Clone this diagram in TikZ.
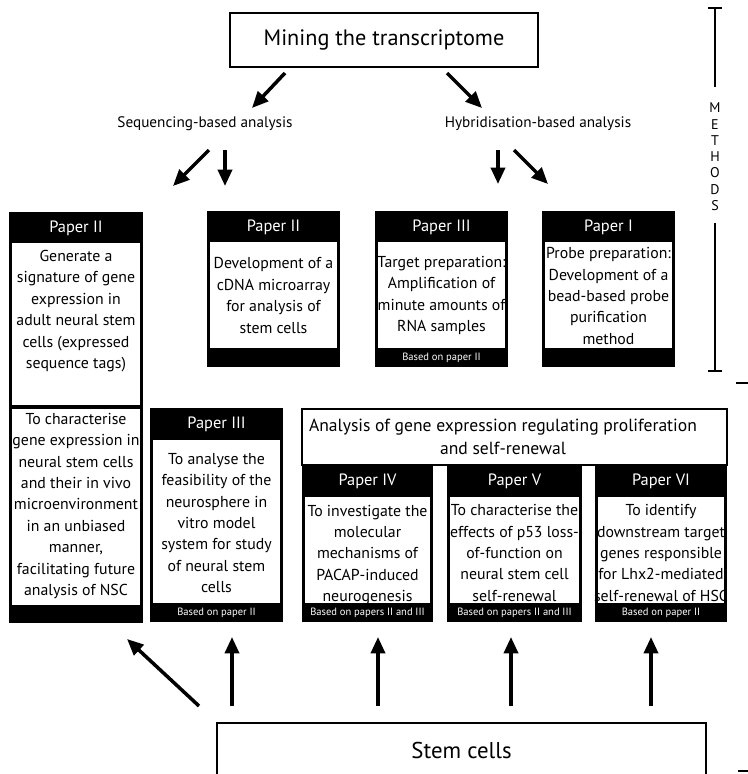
\documentclass[tikz,border=0pt]{standalone}
\usepackage{fontspec}
\setmainfont{PT Sans}
\usetikzlibrary{arrows.meta}

\tikzset{
	hdr/.style={text=white, inner sep=0pt, font=\fontsize{14}{16}\selectfont},
	txt/.style={align=center, inner sep=0pt, font=\fontsize{13.5}{18.3}\selectfont},
	ftr/.style={text=white, inner sep=0pt, font=\fontsize{9}{10}\selectfont},
	bigarrow/.style={line width=3pt, -{Triangle[length=14pt,width=12pt]}},
	frame/.style={draw, line width=1.7pt, fill=white},
}

\begin{document}
\begin{tikzpicture}[x=0.03cm,y=-0.03cm]
		\useasboundingbox (0,0) rectangle (748,774);
		
		%Top
		\node[frame, minimum width=9.24cm, minimum height=1.62cm, font=\fontsize{19}{21}\selectfont] (mine) at (384,40) {Mining the transcriptome};
		\node[font=\fontsize{13}{15}\selectfont] (seq) at (205,124) {Sequencing-based analysis};
		\node[font=\fontsize{13}{15}\selectfont] (hyb) at (538,124) {Hybridisation-based analysis};
		
		%Coordinates
		\coordinate (a1s) at (285,73);   \coordinate (a1e) at (252,108);
		\coordinate (a2s) at (447,73);   \coordinate (a2e) at (482,108);
		\coordinate (a3s) at (209,150);  \coordinate (a3e) at (173,186);
		\coordinate (a4s) at (225,150);  \coordinate (a4e) at (225,186);
		\coordinate (a5s) at (498,150);  \coordinate (a5e) at (498,184);
		\coordinate (a6s) at (514,150);  \coordinate (a6e) at (548,184);
		
		%Arrows
		\draw[bigarrow] (a1s) -- (a1e);
		\draw[bigarrow] (a2s) -- (a2e);
		\draw[bigarrow] (a3s) -- (a3e);
		\draw[bigarrow] (a4s) -- (a4e);
		\draw[bigarrow] (a5s) -- (a5e);
		\draw[bigarrow] (a6s) -- (a6e);
		
		%Methods bracket
		\draw[line width=1.7pt] (715,8) -- (715,87);
		\draw[line width=1.7pt] (715,223) -- (715,371);
		\draw[line width=2.5pt] (708,8) -- (722,8);
		\draw[line width=2.5pt] (708,371) -- (722,371);
		\foreach \l [count=\i] in {M,E,T,H,O,D,S}
		{
			\node[font=\fontsize{12}{13}\selectfont] (m\i) at (715,{91.5+16.3*\i}) {\l};
		}
		\draw[line width=1.5pt] (736,383) -- (748,383);
		\draw[line width=1.5pt] (738,771) -- (748,771);
		
		%Paper II (left)
		\fill (9,212) rectangle (143,623);
		\fill[white] (12,243) rectangle (140,405);
		\fill[white] (12,409) rectangle (140,605);
		\node[hdr] (p2a) at (76,228) {Paper II};
		\node[txt] (p2atxt) at (76,311) {Generate a\\signature of gene\\expression in\\adult neural stem\\cells (expressed\\sequence tags)};
		\node[txt] (p2aaim) at (76,506) {To characterise\\gene expression in\\neural stem cells\\and their in vivo\\microenvironment\\in an unbiased\\manner,\\facilitating future\\analysis of NSC};
		
		%Paper II (microarray)
		\fill (207,211) rectangle (340,367);
		\fill[white] (210,242) rectangle (337,348);
		\node[hdr] (p2b) at (273.5,227) {Paper II};
		\node[txt] (p2btxt) at (273.5,295.5) {Development of a\\cDNA microarray\\for analysis of\\stem cells};
		
		%Paper III (target)
		\fill (375,211) rectangle (508,367);
		\fill[white] (378,242) rectangle (505,348);
		\node[hdr] (p3a) at (441.5,227) {Paper III};
		\node[txt] (p3atxt) at (441.5,295.5) {Target preparation:\\Amplification of\\minute amounts of\\RNA samples};
		\node[ftr] (p3aftr) at (441.5,358) {Based on paper II};
		
		%Paper I
		\fill (542,211) rectangle (675,367);
		\fill[white] (545,242) rectangle (672,348);
		\node[hdr] (p1) at (608.5,227) {Paper I};
		\node[txt] (p1txt) at (608.5,296) {Probe preparation:\\Development of a\\bead-based probe\\purification\\method};
		
		%Paper III (neurosphere)
		\fill (150,408) rectangle (283,622);
		\fill[white] (153,440) rectangle (280,603);
		\node[hdr] (p3b) at (216.5,424) {Paper III};
		\node[txt] (p3btxt) at (216.5,523) {To analyse the\\feasibility of the\\neurosphere in\\vitro model\\system for study\\of neural stem\\cells};
		\node[ftr] (p3bftr) at (216.5,612.5) {Based on paper II};
		
		%Analysis
		\node[frame, minimum width=12.75cm, minimum height=1.68cm] (anl) at (514.5,437) {};
		\node[txt, font=\fontsize{15}{19.5}\selectfont] (anltxt) at (503,437) {Analysis of gene expression regulating proliferation\\and self-renewal};
		
		%Paper IV
		\fill (302,465) rectangle (433,622);
		\fill[white] (305,497) rectangle (430,603);
		\node[hdr] (p4) at (367.5,481) {Paper IV};
		\node[txt] (p4txt) at (367.5,555) {To investigate the\\molecular\\mechanisms of\\PACAP-induced\\neurogenesis};
		\node[ftr] (p4ftr) at (367.5,612.5) {Based on papers II and III};
		
		%Paper V
		\fill (447,465) rectangle (582,622);
		\fill[white] (450,497) rectangle (579,603);
		\node[hdr] (p5) at (514.5,481) {Paper V};
		\node[txt] (p5txt) at (514.5,553) {To characterise the\\effects of p53 loss-\\of-function on\\neural stem cell\\self-renewal};
		\node[ftr] (p5ftr) at (514.5,612.5) {Based on papers II and III};
		
		%Paper VI
		\fill (595,465) rectangle (727,622);
		\fill[white] (598,497) rectangle (724,603);
		\node[hdr] (p6) at (661,481) {Paper VI};
		\node[txt] (p6txt) at (661,553) {To identify\\downstream target\\genes responsible\\for Lhx2-mediated\\self-renewal of HSC};
		\node[ftr] (p6ftr) at (661,612.5) {Based on paper II};
		
		%Stem cells
		\draw[line width=1.7pt] (217,800) |- (706,723) -- (706,800);
		\node[font=\fontsize{19.5}{21}\selectfont] (stem) at (461.5,750) {Stem cells};
		
		%Bottom arrows
		\coordinate (b1s) at (199,706);  \coordinate (b1e) at (127,639);
		\foreach \x [count=\i from 2] in {232,378,511,651}
		{
			\coordinate (b\i s) at (\x,706);
			\coordinate (b\i e) at (\x,637);
		}
		\draw[bigarrow] (b1s) -- (b1e);
		\foreach \i in {2,...,5}
		{
			\draw[bigarrow] (b\i s) -- (b\i e);
		}
		
	\end{tikzpicture}
\end{document}
